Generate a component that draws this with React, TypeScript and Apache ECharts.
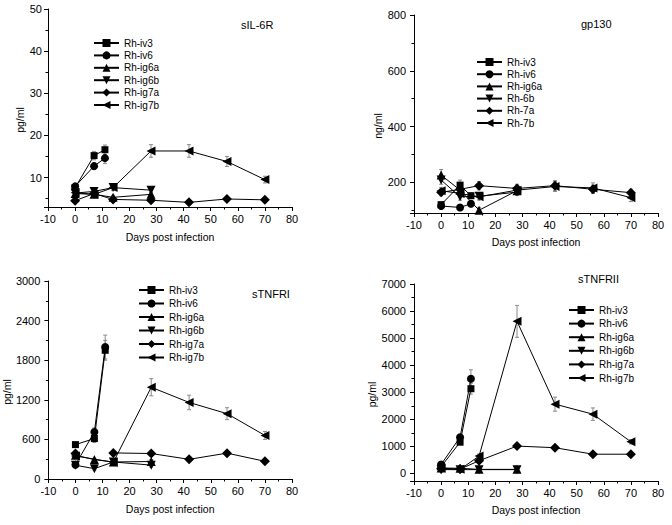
import React, { useEffect, useRef } from "react";
import * as echarts from "echarts";

// ---------- data ----------
const DAYS_IV = [0, 7, 11];
const DAYS_IG6 = [0, 7, 14, 28];
const DAYS_IG7 = [0, 7, 14, 28, 42, 56, 70];
const DAYS_IG7_B3 = [0, 14, 28, 42, 56, 70];

const NAMES_MAIN = ["Rh-iv3", "Rh-iv6", "Rh-ig6a", "Rh-ig6b", "Rh-ig7a", "Rh-ig7b"];
const NAMES_GP130 = ["Rh-iv3", "Rh-iv6", "Rh-ig6a", "Rh-6b", "Rh-7a", "Rh-7b"];

const X_TICKS = { min: -10, max: 80, step: 10 };

// sIL-6R (pg/ml)
const IL6R_IV3 = [7.6, 15.2, 16.6];
const IL6R_IV6 = [7.9, 12.7, 14.6];
const IL6R_IG6A = [6.2, 6.0, 5.3, 6.0];
const IL6R_IG6B = [6.3, 6.7, 7.6, 7.0];
const IL6R_IG7A = [4.5, 6.2, 4.8, 4.6, 4.1, 4.9, 4.7];
const IL6R_IG7B = [6.4, 6.0, 7.6, 16.3, 16.3, 13.8, 9.5];
const IL6R_ERR = [
  [0.5, 1.0, 1.1],
  [0.5, 0.8, 1.3],
  [0.4, 0.5, 0.5, 0.5],
  [0.4, 0.5, 0.6, 0.6],
  [0.3, 0.4, 0.4, 0.3, 0.3, 0.3, 0.3],
  [0.4, 0.5, 0.6, 1.5, 1.5, 1.2, 0.8],
];

// gp130 (ng/ml)
const GP130_IV3 = [120, 190, 152];
const GP130_IV6 = [115, 110, 123];
const GP130_IG6A = [226, 172, 100, 170];
const GP130_6B = [208, 148, 150, 165];
const GP130_7A = [164, 175, 188, 178, 188, 175, 163];
const GP130_7B = [170, 160, 148, 172, 185, 180, 145];
const GP130_ERR = [
  [8, 18, 10],
  [8, 8, 10],
  [20, 15, 10, 12],
  [15, 12, 10, 12],
  [12, 12, 15, 15, 18, 15, 12],
  [12, 12, 12, 15, 18, 18, 14],
];

// sTNFRI (pg/ml)
const TNFRI_IV3 = [521, 613, 1950];
const TNFRI_IV6 = [215, 713, 2000];
const TNFRI_IG6A = [360, 294, 258, 265];
const TNFRI_IG6B = [208, 157, 258, 210];
const TNFRI_IG7A = [385, null, 395, 386, 298, 392, 268];
const TNFRI_IG7B = [349, 253, 1390, 1160, 990, 660];
const TNFRI_ERR = [
  [20, 60, 150],
  [20, 60, 180],
  [20, 20, 30, 30],
  [20, 20, 30, 30],
  [20, 0, 20, 20, 20, 20, 20],
  [20, 30, 130, 110, 90, 60],
];

// sTNFRII (pg/ml)
const TNFRII_IV3 = [250, 1154, 3131];
const TNFRII_IV6 = [331, 1339, 3500];
const TNFRII_IG6A = [200, 190, 150, 150];
const TNFRII_IG6B = [140, 140, 140, 140];
const TNFRII_IG7A = [170, 160, 468, 1010, 950, 710, 710];
const TNFRII_IG7B = [200, 150, 640, 5620, 2560, 2190, 1170];
const TNFRII_ERR = [
  [50, 80, 200],
  [50, 100, 330],
  [30, 30, 30, 30],
  [20, 20, 20, 20],
  [20, 20, 40, 50, 50, 40, 40],
  [30, 30, 80, 590, 260, 230, 80],
];

// ---------- styling / layout ----------
const FONT = "'Liberation Sans', Arial, Helvetica, sans-serif";
const SYMBOLS = [
  { symbol: "rect", rotate: 0, size: 7 },
  { symbol: "circle", rotate: 0, size: 8 },
  { symbol: "triangle", rotate: 0, size: 9 },
  { symbol: "triangle", rotate: 180, size: 9 },
  { symbol: "diamond", rotate: 0, size: 10 },
  { symbol: "triangle", rotate: 90, size: 9 },
];

const PANELS = [
  {
    title: "sIL-6R", titleLeft: 241, titleTop: 19,
    yName: "pg/ml", yMin: 3, yMax: 50, yStep: 10,
    grid: { left: 48, top: 9, width: 244, height: 198 },
    yNameGap: 22, yLabelMargin: 6, xNameGap: 24,
    legend: { left: 93, top: 37, gap: 0.4 },
    names: NAMES_MAIN,
    days: [DAYS_IV, DAYS_IV, DAYS_IG6, DAYS_IG6, DAYS_IG7, DAYS_IG7],
    values: [IL6R_IV3, IL6R_IV6, IL6R_IG6A, IL6R_IG6B, IL6R_IG7A, IL6R_IG7B],
    errors: IL6R_ERR,
  },
  {
    title: "gp130", titleLeft: 581, titleTop: 18,
    yName: "ng/ml", yMin: 90, yMax: 800, yStep: 200,
    grid: { left: 414, top: 15, width: 244, height: 198 },
    yNameGap: 28, yLabelMargin: 8, xNameGap: 23,
    legend: { left: 476, top: 56, gap: 0.2 },
    names: NAMES_GP130,
    days: [DAYS_IV, DAYS_IV, DAYS_IG6, DAYS_IG6, DAYS_IG7, DAYS_IG7],
    values: [GP130_IV3, GP130_IV6, GP130_IG6A, GP130_6B, GP130_7A, GP130_7B],
    errors: GP130_ERR,
  },
  {
    title: "sTNFRI", titleLeft: 252, titleTop: 288,
    yName: "pg/ml", yMin: 0, yMax: 3000, yStep: 600,
    grid: { left: 48, top: 281, width: 244, height: 198 },
    yNameGap: 33, yLabelMargin: 8, xNameGap: 24,
    legend: { left: 138, top: 284, gap: 1.5 },
    names: NAMES_MAIN,
    days: [DAYS_IV, DAYS_IV, DAYS_IG6, DAYS_IG6, DAYS_IG7, DAYS_IG7_B3],
    values: [TNFRI_IV3, TNFRI_IV6, TNFRI_IG6A, TNFRI_IG6B, TNFRI_IG7A, TNFRI_IG7B],
    errors: TNFRI_ERR,
  },
  {
    title: "sTNFRII", titleLeft: 578, titleTop: 273,
    yName: "pg/ml", yMin: -280, yMax: 7000, yStep: 1000,
    grid: { left: 414, top: 284, width: 244, height: 197 },
    yNameGap: 33, yLabelMargin: 8, xNameGap: 23,
    legend: { left: 568, top: 304, gap: 1.6 },
    names: NAMES_MAIN,
    days: [DAYS_IV, DAYS_IV, DAYS_IG6, DAYS_IG6, DAYS_IG7, DAYS_IG7],
    values: [TNFRII_IV3, TNFRII_IV6, TNFRII_IG6A, TNFRII_IG6B, TNFRII_IG7A, TNFRII_IG7B],
    errors: TNFRII_ERR,
  },
];

function errorRender(params: any, api: any) {
  const x = api.value(0);
  const y = api.value(1);
  const e = api.value(2);
  if (!e) return null;
  const top = api.coord([x, y + e]);
  const bot = api.coord([x, y - e]);
  const w = 2;
  const st = { stroke: "#8a8a8a", lineWidth: 1 };
  return {
    type: "group",
    children: [
      { type: "line", shape: { x1: top[0], y1: top[1], x2: bot[0], y2: bot[1] }, style: st },
      { type: "line", shape: { x1: top[0] - w, y1: top[1], x2: top[0] + w, y2: top[1] }, style: st },
      { type: "line", shape: { x1: bot[0] - w, y1: bot[1], x2: bot[0] + w, y2: bot[1] }, style: st },
    ],
  };
}

const plain = (v: number) => String(v);

function buildOption() {
  const grid: any[] = [];
  const xAxis: any[] = [];
  const yAxis: any[] = [];
  const series: any[] = [];
  const legend: any[] = [];
  const title: any[] = [];

  PANELS.forEach((p, i) => {
    grid.push({ ...p.grid, containLabel: false });
    xAxis.push({
      gridIndex: i,
      type: "value",
      min: X_TICKS.min,
      max: X_TICKS.max,
      interval: X_TICKS.step,
      name: "Days post infection",
      nameLocation: "middle",
      nameGap: p.xNameGap,
      nameTextStyle: { fontSize: 10.5, color: "#000", fontFamily: FONT },
      axisLine: { show: true, onZero: false, lineStyle: { color: "#000", width: 1 } },
      axisTick: { show: true, inside: false, length: 4, lineStyle: { color: "#000" } },
      minorTick: { show: true, splitNumber: 2, length: 2.5, lineStyle: { color: "#000" } },
      splitLine: { show: false },
      minorSplitLine: { show: false },
      axisLabel: { color: "#000", fontSize: 11, fontFamily: FONT, margin: 6, formatter: plain },
    });
    yAxis.push({
      gridIndex: i,
      type: "value",
      min: p.yMin,
      max: p.yMax,
      splitNumber: Math.round((p.yMax - p.yMin) / p.yStep),
      minInterval: p.yStep,
      maxInterval: p.yStep,
      name: p.yName,
      nameLocation: "middle",
      nameGap: p.yNameGap,
      nameTextStyle: { fontSize: 10.5, color: "#000", fontFamily: FONT, padding: [0, 24, 0, 0] },
      axisLine: { show: true, onZero: false, lineStyle: { color: "#000", width: 1 } },
      axisTick: { show: true, inside: false, length: 4, lineStyle: { color: "#000" } },
      minorTick: { show: true, splitNumber: 2, length: 2.5, lineStyle: { color: "#000" } },
      splitLine: { show: false },
      minorSplitLine: { show: false },
      axisLabel: {
        color: "#000",
        fontSize: 11,
        fontFamily: FONT,
        margin: p.yLabelMargin,
        showMinLabel: p.yMin % p.yStep === 0,
        formatter: plain,
      },
    });
    title.push({
      text: p.title,
      left: p.titleLeft,
      top: p.titleTop,
      padding: 0,
      textStyle: { fontSize: 11, fontWeight: "normal", color: "#000", fontFamily: FONT },
    });
    legend.push({
      data: p.names,
      orient: "vertical",
      left: p.legend.left,
      top: p.legend.top,
      padding: 0,
      itemWidth: 25,
      itemHeight: 10,
      itemGap: p.legend.gap,
      selectedMode: false,
      textStyle: { fontSize: 10, color: "#000", fontFamily: FONT, lineHeight: 12 },
    });

    p.names.forEach((name, k) => {
      const days = p.days[k];
      const vals = p.values[k];
      const errs = p.errors[k];
      const sym = SYMBOLS[k];
      series.push({
        type: "line",
        name,
        xAxisIndex: i,
        yAxisIndex: i,
        data: days.map((d, j) => [d, vals[j] == null ? null : vals[j]]),
        symbol: sym.symbol,
        symbolRotate: sym.rotate,
        symbolSize: sym.size,
        showSymbol: true,
        connectNulls: false,
        lineStyle: { color: "#000", width: 1 },
        itemStyle: { color: "#000" },
        z: 3,
      });
      series.push({
        type: "custom",
        name: name + " SE",
        xAxisIndex: i,
        yAxisIndex: i,
        silent: true,
        z: 2,
        encode: { x: 0, y: 1 },
        data: days
          .map((d, j) => [d, vals[j], errs[j]])
          .filter((r) => r[1] != null),
        renderItem: errorRender,
      });
    });
  });

  return {
    animation: false,
    backgroundColor: "#fff",
    textStyle: { fontFamily: FONT },
    title,
    legend,
    grid,
    xAxis,
    yAxis,
    series,
  };
}

export default function App() {
  const ref = useRef<HTMLDivElement>(null);
  useEffect(() => {
    document.body.style.margin = "0";
    if (!ref.current) return;
    const chart = echarts.init(ref.current, null, { renderer: "svg" });
    chart.setOption(buildOption() as any);
    return () => chart.dispose();
  }, []);
  return <div ref={ref} style={{ width: 672, height: 525 }} />;
}
